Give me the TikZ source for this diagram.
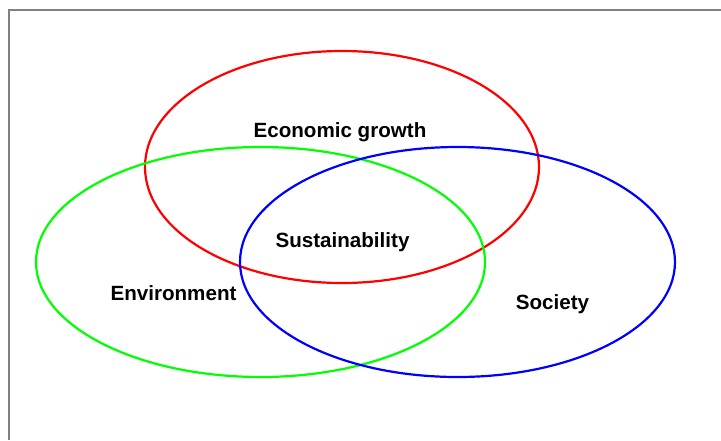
\documentclass[tikz,border=0pt]{standalone}
\usepackage{fontspec}
\setmainfont{Liberation Sans}

\begin{document}
\begin{tikzpicture}[x=1pt,y=-1pt,
    lbl/.style={font=\fontsize{20.6}{23}\selectfont\bfseries,inner sep=0pt}]
      \useasboundingbox (0,0) rectangle (721,440) ;
      \draw[line width=1.5pt, gray] (9,440)--(9,10)--(721,10) ;
      \draw[line width=2.2pt, red] (342,167) ellipse (197 and 116) ;
      \draw[line width=2.2pt, green] (260.5,262) ellipse (224.5 and 115) ;
      \draw[line width=2.2pt, blue] (457.5,262) ellipse (217.5 and 115) ;
      \node[lbl,anchor=base] (eco) at (340,137) {Economic growth} ;
      \node[lbl,anchor=base] (sus) at (342.5,247.3) {Sustainability} ;
      \node[lbl,anchor=base] (env) at (173.5,300.7) {Environment} ;
      \node[lbl,anchor=base] (soc) at (552.5,309.3) {Society} ;
    \end{tikzpicture}
\end{document}
